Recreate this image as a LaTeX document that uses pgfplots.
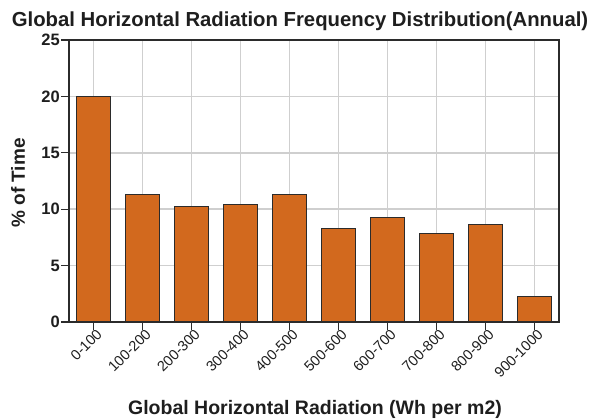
\documentclass[border=0pt]{standalone}
\usepackage{pgfplots}
\pgfplotsset{compat=1.18}
\usepackage{fontspec}
\setmainfont{Liberation Sans}
\definecolor{barfill}{HTML}{D2691E}
\definecolor{edge}{HTML}{2B2B2B}
\definecolor{gridc}{HTML}{CFCFCF}
\definecolor{txt}{HTML}{1E1E1E}
\begin{document}
\begin{tikzpicture}
\path[use as bounding box] (-69pt,-96pt) rectangle (527pt,322pt);
\begin{axis}[
  at={(0pt,0pt)}, anchor=south west,
  scale only axis, width=490pt, height=282pt,
  xmin=-0.5, xmax=9.5, ymin=0, ymax=25,
  xtick={0,...,9},
  xticklabels={0-100,100-200,200-300,300-400,400-500,500-600,600-700,700-800,800-900,900-1000},
  ytick={0,5,10,15,20,25},
  xtick pos=bottom, ytick pos=left,
  tick align=outside, major tick length=8pt,
  tick style={edge, line width=1.1pt},
  axis line style={edge, line width=1.2pt},
  grid=major, major grid style={gridc, line width=1.5pt},
  /pgf/number format/assume math mode=true,
  xticklabel style={rotate=45, anchor=north east, font=\fontsize{14.5}{16}\selectfont, text=txt, inner sep=1pt, xshift=4pt, yshift=1pt},
  yticklabel style={font=\fontsize{16.5}{18}\selectfont\bfseries, text=txt, inner sep=1pt},
]
\addplot[ybar, bar width=0.7, fill=barfill, draw=edge, line width=1.2pt] coordinates {
(0,20.0) (1,11.33) (2,10.27) (3,10.44) (4,11.33) (5,8.32) (6,9.23) (7,7.84) (8,8.61) (9,2.24)
};
\end{axis}
\node[anchor=base, text=txt, font=\fontsize{20.3}{22}\selectfont\bfseries] at (231pt,295pt) {Global Horizontal Radiation Frequency Distribution(Annual)};
\node[anchor=base, text=txt, font=\fontsize{19.5}{22}\selectfont\bfseries] at (246pt,-92pt) {Global Horizontal Radiation (Wh per m2)};
\node[rotate=90, text=txt, font=\fontsize{19}{22}\selectfont\bfseries] at (-51pt,139pt) {\% of Time};
\end{tikzpicture}
\end{document}
